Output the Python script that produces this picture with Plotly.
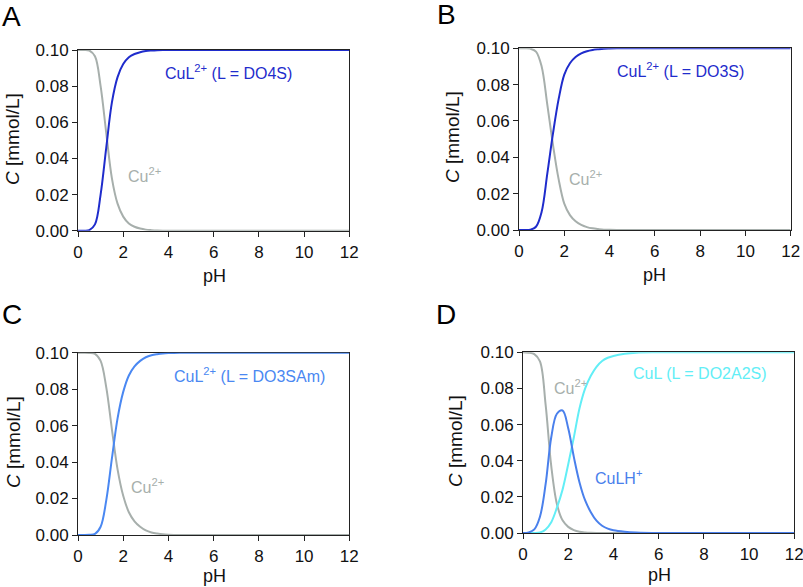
import plotly.graph_objects as go

# ---------------- data ----------------
ph = [0, 0.25, 0.5, 0.75, 1.0, 1.25, 1.5, 1.75, 2.0, 2.25, 2.5, 2.75, 3.0,
      3.25, 3.5, 3.75, 4.0, 4.5, 5, 6, 8, 10, 12]

# Panel A (L = DO4S)
a_cul = [0, 0, 0.0003, 0.0035, 0.020, 0.046, 0.071, 0.085, 0.0922, 0.0960, 0.0978,
         0.0988, 0.0994, 0.0997, 0.0999, 0.1, 0.1, 0.1, 0.1, 0.1, 0.1, 0.1, 0.1]
a_cu = [0.1, 0.1, 0.0997, 0.0965, 0.080, 0.054, 0.029, 0.015, 0.0078, 0.0040, 0.0022,
        0.0012, 0.0006, 0.0003, 0.0001, 0, 0, 0, 0, 0, 0, 0, 0]

# Panel B (L = DO3S)
b_cul = [0, 0, 0.0002, 0.0018, 0.010, 0.031, 0.053, 0.072, 0.0855, 0.0918, 0.0952,
         0.0972, 0.0984, 0.0991, 0.0995, 0.0998, 0.0999, 0.1, 0.1, 0.1, 0.1, 0.1, 0.1]
b_cu = [0.1, 0.1, 0.0998, 0.0982, 0.090, 0.069, 0.047, 0.028, 0.0145, 0.0082, 0.0048,
        0.0028, 0.0016, 0.0009, 0.0005, 0.0002, 0.0001, 0, 0, 0, 0, 0, 0]

# Panel C (L = DO3SAm)
c_cul = [0, 0, 0.0001, 0.0006, 0.0045, 0.019, 0.042, 0.064, 0.0785, 0.0875, 0.0925,
         0.0955, 0.0975, 0.0986, 0.0992, 0.0996, 0.0998, 0.1, 0.1, 0.1, 0.1, 0.1, 0.1]
c_cu = [0.1, 0.1, 0.0999, 0.0994, 0.0955, 0.081, 0.058, 0.036, 0.0215, 0.0125, 0.0075,
        0.0045, 0.0025, 0.0014, 0.0008, 0.0004, 0.0002, 0, 0, 0, 0, 0, 0]

# Panel D (L = DO2A2S)
d_cu = [0.1, 0.0998, 0.0990, 0.0950, 0.071, 0.037, 0.016, 0.0070, 0.0034, 0.0016,
        0.0007, 0.0003, 0.0001, 0, 0, 0, 0, 0, 0, 0, 0, 0, 0]
d_culh = [0, 0.0003, 0.002, 0.009, 0.027, 0.053, 0.066, 0.0678, 0.058, 0.042, 0.028,
          0.018, 0.0115, 0.0068, 0.0040, 0.0024, 0.0015, 0.0007, 0.0003, 0, 0, 0, 0]
d_cul = [0, 0, 0, 0.0003, 0.002, 0.006, 0.014, 0.024, 0.038, 0.053, 0.069, 0.080,
         0.087, 0.092, 0.0952, 0.0970, 0.0980, 0.0992, 0.0998, 0.1, 0.1, 0.1, 0.1]

x_ticks = [0, 2, 4, 6, 8, 10, 12]
y_ticks = [0.00, 0.02, 0.04, 0.06, 0.08, 0.10]
panel_letters = ["A", "B", "C", "D"]
x_title = "pH"
y_title = "<i>C</i> [mmol/L]"

# ---------------- styling ----------------
GRAY = "#a7afac"
DBLUE = "#1f2ccc"
MBLUE = "#4a88f2"
DBLUE2 = "#4a80ec"
CYAN = "#62eef6"
INK = "#111111"
FONT = "Liberation Sans, Arial, sans-serif"

W, H = 803, 587
# plot boxes in pixels: (left, right, top, bottom)
boxes = {
    "A": (78, 349.3, 50, 230.7),
    "B": (519, 790.7, 48.3, 230),
    "C": (78, 349.3, 352.7, 535),
    "D": (523, 794.3, 352.3, 533),
}
# title / letter positions in pixels
ytitle_pos = {"A": (13, 139), "B": (453, 137), "C": (13, 442), "D": (455, 441)}
xtitle_pos = {"A": (214, 276), "B": (654, 275), "C": (214, 575.5), "D": (659, 575)}
letter_pos = {"A": (11, 16), "B": (446, 14), "C": (12, 314), "D": (446, 314)}

fig = go.Figure()

panels = [
    ("A", [(a_cu, GRAY), (a_cul, DBLUE)]),
    ("B", [(b_cu, GRAY), (b_cul, DBLUE)]),
    ("C", [(c_cu, GRAY), (c_cul, MBLUE)]),
    ("D", [(d_cu, GRAY), (d_cul, CYAN), (d_culh, DBLUE2)]),
]

for i, (name, series) in enumerate(panels):
    idx = "" if i == 0 else str(i + 1)
    for vals, col in series:
        fig.add_trace(go.Scatter(
            x=ph, y=vals, mode="lines",
            line=dict(color=col, width=2, shape="spline", smoothing=1.0),
            xaxis="x" + idx, yaxis="y" + idx, showlegend=False,
            hoverinfo="skip"))
    x0, x1, y0, y1 = boxes[name]
    axcommon = dict(showline=True, linecolor="#222222", linewidth=1, mirror=True,
                    ticks="outside", ticklen=5, tickwidth=1, tickcolor="#222222",
                    showgrid=False, zeroline=False, layer="below traces",
                    automargin=False, ticklabeloverflow="allow",
                    tickfont=dict(family=FONT, size=17, color=INK))
    fig.layout["xaxis" + idx] = dict(
        axcommon, domain=[x0 / W, x1 / W], range=[0, 12], tickvals=x_ticks,
        anchor="y" + idx, ticklabelstandoff=1)
    fig.layout["yaxis" + idx] = dict(
        axcommon, domain=[1 - y1 / H, 1 - y0 / H], range=[0, 0.1],
        tickvals=y_ticks, tickformat=".2f", anchor="x" + idx)

    tx, ty = ytitle_pos[name]
    fig.add_annotation(text=y_title, x=tx / W, y=1 - ty / H, xref="paper", yref="paper",
                       xanchor="center", yanchor="middle", textangle=-90, showarrow=False,
                       font=dict(family=FONT, size=19, color=INK))
    tx, ty = xtitle_pos[name]
    fig.add_annotation(text=x_title, x=tx / W, y=1 - ty / H, xref="paper", yref="paper",
                       xanchor="center", yanchor="middle", showarrow=False,
                       font=dict(family=FONT, size=18, color=INK))
    tx, ty = letter_pos[name]
    fig.add_annotation(text=panel_letters[i], x=tx / W, y=1 - ty / H, xref="paper",
                       yref="paper", xanchor="center", yanchor="middle", showarrow=False,
                       font=dict(family=FONT, size=28, color="#000000"))

# curve labels (data coordinates)
labels = [
    ("", "CuL<sup>2+</sup> (L = DO4S)", 3.76, 0.0878, DBLUE),
    ("", "Cu<sup>2+</sup>", 2.13, 0.0308, GRAY),
    ("2", "CuL<sup>2+</sup> (L = DO3S)", 4.24, 0.088, DBLUE),
    ("2", "Cu<sup>2+</sup>", 2.10, 0.0286, GRAY),
    ("3", "CuL<sup>2+</sup> (L = DO3SAm)", 4.15, 0.0878, MBLUE),
    ("3", "Cu<sup>2+</sup>", 2.27, 0.0269, GRAY),
    ("4", "CuL (L = DO2A2S)", 4.78, 0.0884, CYAN),
    ("4", "Cu<sup>2+</sup>", 1.27, 0.0806, GRAY),
    ("4", "CuLH<sup>+</sup>", 3.11, 0.0312, DBLUE2),
]
for idx, txt, xv, yv, col in labels:
    fig.add_annotation(text=txt, x=xv, y=yv, xref="x" + idx, yref="y" + idx,
                       xanchor="left", yanchor="middle", showarrow=False,
                       font=dict(family=FONT, size=16, color=col))

fig.update_layout(width=W, height=H, margin=dict(l=0, r=0, t=0, b=0),
                  paper_bgcolor="white", plot_bgcolor="white")

fig.write_html("out.html", config={"displayModeBar": False},
               post_script="document.body.style.margin='0';"
                           "document.body.style.padding='0';")
